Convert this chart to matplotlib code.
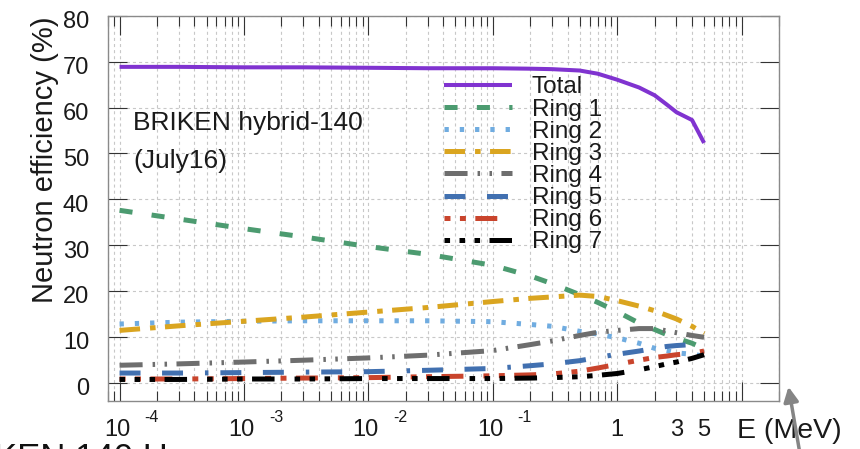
import matplotlib
matplotlib.use("Agg")
import matplotlib.pyplot as plt
from matplotlib.ticker import LogLocator, NullFormatter, NullLocator, MultipleLocator
from matplotlib.transforms import ScaledTranslation, blended_transform_factory

plt.rcParams['font.family'] = ['Liberation Sans', 'DejaVu Sans']
plt.rcParams['lines.scale_dashes'] = False

# Neutron energy (MeV) and detection efficiency (%) per ring
energy_mev = [1e-4, 3e-4, 1e-3, 3e-3, 1e-2, 3e-2, 0.1, 0.2, 0.3, 0.5, 0.7,
              1.0, 1.5, 2.0, 2.5, 3.0, 4.0, 5.0]
total = [68.9, 68.9, 68.8, 68.8, 68.7, 68.6, 68.6, 68.5, 68.4, 68.1, 67.4,
         66.1, 64.4, 62.7, 60.7, 59.0, 57.3, 52.3]
ring1 = [37.6, 35.7, 33.6, 31.8, 29.7, 28.0, 25.6, 23.3, 21.6, 19.2, 17.5,
         15.5, 13.0, 11.6, 10.5, 9.7, 8.6, 7.4]
ring2 = [12.8, 13.2, 13.4, 13.5, 13.5, 13.5, 13.3, 12.7, 12.3, 11.2, 10.6,
         9.8, 8.6, 7.5, 7.0, 6.5, 6.2, 5.8]
ring3 = [11.4, 12.4, 13.4, 14.3, 15.4, 16.4, 17.7, 18.4, 18.7, 19.1, 18.8,
         17.9, 16.7, 15.7, 14.7, 13.9, 12.3, 10.7]
ring4 = [3.8, 4.1, 4.5, 4.9, 5.4, 6.0, 7.0, 8.3, 9.1, 10.3, 11.0,
         11.4, 11.8, 11.8, 11.3, 10.9, 10.3, 9.9]
ring5 = [2.1, 2.1, 2.2, 2.3, 2.4, 2.7, 3.1, 3.7, 4.1, 4.8, 5.5,
         6.2, 6.9, 7.5, 7.9, 8.1, 8.3, 7.6]
ring6 = [0.8, 0.8, 0.9, 1.0, 1.1, 1.3, 1.5, 1.7, 1.9, 2.5, 3.2,
         4.0, 4.9, 5.5, 5.8, 6.1, 6.4, 6.9]
ring7 = [0.7, 0.7, 0.8, 0.8, 0.9, 0.9, 0.9, 1.0, 1.1, 1.3, 1.6,
         2.0, 2.8, 3.5, 4.1, 4.5, 5.3, 6.1]

series_labels = ['Total', 'Ring 1', 'Ring 2', 'Ring 3', 'Ring 4', 'Ring 5', 'Ring 6', 'Ring 7']
series_values = [total, ring1, ring2, ring3, ring4, ring5, ring6, ring7]

# x tick labels: mantissa, exponent
xlabel_pos = [1e-4, 1e-3, 1e-2, 1e-1, 1, 3, 5]
xlabel_base = ['10', '10', '10', '10', '1', '3', '5']
xlabel_exp = ['-4', '-3', '-2', '-1', '', '', '']

# line styles (colour, width in pt, dash sequence in pt)
colors = ['#8033d0', '#4c9b70', '#70ace0', '#daa520', '#6e6e6e', '#4170b0', '#c9442c', '#000000']
widths = [2.9, 3.6, 3.6, 3.6, 3.6, 3.6, 3.6, 3.6]
dashes = [None,
          (0, (9.4, 13.9)),
          (0, (3.1, 7.9)),
          (0, (14.8, 7.2, 4.0, 6.8)),
          (0, (16.6, 7.2, 1.8, 6.8, 1.8, 6.8)),
          (0, (15.1, 15.5, 15.1, 15.8, 2.5, 8.6)),
          (0, (4.3, 6.8, 4.3, 6.8, 15.8, 14.4)),
          (0, (4.0, 6.8, 4.0, 6.8, 4.0, 6.8, 16.2, 14.4))]

fig = plt.figure(figsize=(8.6, 4.49), dpi=100)
ax = fig.add_axes([0.125, 0.1069, 0.7808, 0.8575])
ax.set_xscale('log')
ax.set_xlim(8e-5, 20)
ax.set_ylim(-4, 80)

for lab, vals, c, w, d in zip(series_labels, series_values, colors, widths, dashes):
    ax.plot(energy_mev, vals, color=c, lw=w, ls='-' if d is None else d,
            dash_capstyle='butt', solid_capstyle='butt', label=lab, zorder=3)

# axes, ticks, grid
ax.xaxis.set_major_locator(LogLocator(base=10, numticks=20))
ax.xaxis.set_minor_locator(LogLocator(base=10, subs=range(2, 10), numticks=40))
ax.xaxis.set_major_formatter(NullFormatter())
ax.xaxis.set_minor_formatter(NullFormatter())
ax.yaxis.set_major_locator(MultipleLocator(10))
ax.yaxis.set_minor_locator(NullLocator())

ax.tick_params(which='major', direction='in', length=14, width=0.8, color='#333333',
               top=True, right=True, labelsize=17, pad=13.3, labelcolor='#1a1a1a')
ax.tick_params(which='minor', direction='in', length=7, width=0.8, color='#333333',
               top=True, right=True)
for sp in ax.spines.values():
    sp.set_color('#8a8a8a')
    sp.set_linewidth(1.0)

grid_kw = dict(color='#c8c8c8', lw=0.8, ls=(0, (2.2, 2.2)))
ax.grid(True, which='major', axis='both', **grid_kw)
ax.grid(True, which='minor', axis='x', **grid_kw)
ax.set_axisbelow(True)

shift_down = ScaledTranslation(0, -4 / 100, fig.dpi_scale_trans)
for t in ax.get_yticklabels():
    t.set_transform(t.get_transform() + shift_down)

# x tick labels in "10 ^exp" form
xt = blended_transform_factory(ax.transData, ax.transAxes)
for pos, base, ex in zip(xlabel_pos, xlabel_base, xlabel_exp):
    if ex:
        ax.text(pos, -0.0909, base, transform=xt + ScaledTranslation(-2.5 / 100, 0, fig.dpi_scale_trans),
                ha='center', va='baseline', fontsize=17, color='#1a1a1a')
        ax.text(pos, -0.054, ex, transform=xt + ScaledTranslation(25 / 100, 0, fig.dpi_scale_trans),
                ha='left', va='baseline', fontsize=11.5, color='#1a1a1a')
    else:
        ax.text(pos, -0.0909, base, transform=xt, ha='center', va='baseline',
                fontsize=17, color='#1a1a1a')

ax.text(0.9375, -0.096, 'E (MeV)', transform=ax.transAxes, ha='left', va='baseline',
        fontsize=20.5, color='#1a1a1a')
ax.set_ylabel('Neutron efficiency (%)', fontsize=21, color='#1a1a1a')
ax.yaxis.set_label_coords(-0.0722, 0.626)

ax.text(0.038, 0.7039, 'BRIKEN hybrid-140', transform=ax.transAxes, fontsize=19,
        ha='left', va='baseline', color='#1a1a1a')
ax.text(0.038, 0.605, '(July16)', transform=ax.transAxes, fontsize=19,
        ha='left', va='baseline', color='#1a1a1a')

ax.legend(loc='upper left', bbox_to_anchor=(0.501, 0.843), frameon=False, fontsize=17.5,
          handlelength=2.8, handletextpad=0.82, labelspacing=0.005,
          borderpad=0, borderaxespad=0, labelcolor='#1a1a1a')

# surrounding slide pieces
fig.text(-6 / 860, -0.0423, 'KEN 140 H', fontsize=25, ha='left', va='baseline', color='#111111')
ax.annotate('', xy=(788, 449 - 384), xytext=(800, -5), xycoords='figure pixels',
            textcoords='figure pixels',
            arrowprops=dict(arrowstyle='-|>', color='#858585', lw=2.5, mutation_scale=22))

fig.savefig('out.png', dpi=100)
